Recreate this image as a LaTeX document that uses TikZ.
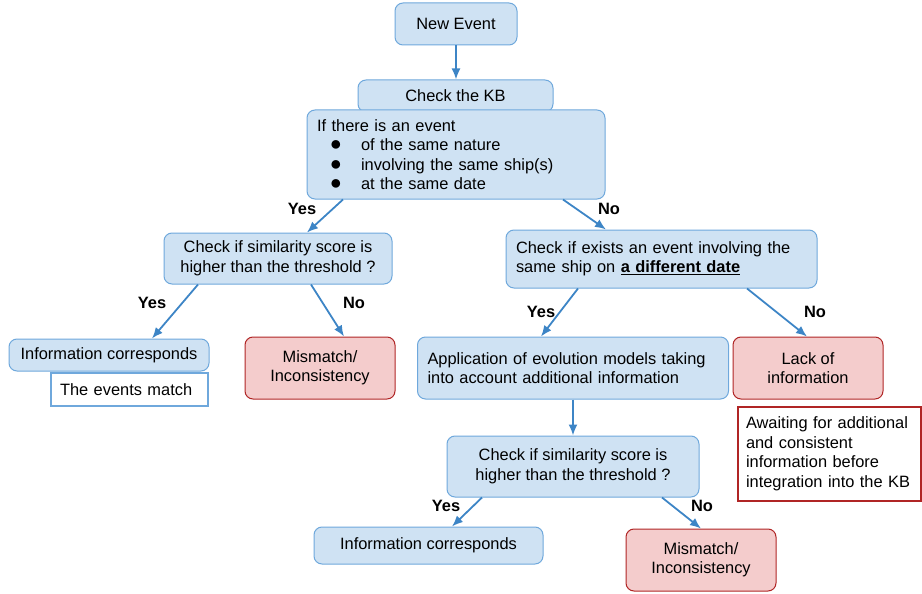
\documentclass[tikz,border=0pt]{standalone}
\usepackage{fontspec}
\setmainfont{Liberation Sans}
\usetikzlibrary{arrows.meta, positioning, calc}
\definecolor{boxblue}{HTML}{CFE2F3}
\definecolor{lineblue}{HTML}{6FA8DC}
\definecolor{arrowblue}{HTML}{3D85C6}
\definecolor{boxred}{HTML}{F4CCCC}
\definecolor{linered}{HTML}{B02525}
\newcommand{\diagfont}{\fontsize{16.4}{19.5}\selectfont}
\newcommand{\evitem}[1]{\hspace*{14pt}\makebox[10pt]{\fontsize{20}{12}\selectfont ●}\hspace*{20pt}#1}
\tikzset{
  blkcheck/.style = {draw=lineblue, line width=1pt, fill=boxblue, rounded corners=8pt,
                     align=center, inner sep=0pt},
  blkleft/.style  = {blkcheck, align=left, inner xsep=10pt},
  blkbad/.style   = {draw=linered, line width=1pt, fill=boxred, rounded corners=8pt,
                     align=center, inner sep=0pt},
  blknote/.style  = {draw=lineblue, line width=1.8pt, fill=white, align=left, inner sep=0pt},
  blkwait/.style  = {draw=linered, line width=1.2pt, fill=white, align=left, inner sep=0pt},
  flow/.style     = {-{Latex[length=11pt, width=9pt]}, arrowblue, line width=1.8pt},
  anslbl/.style   = {font=\diagfont\bfseries, inner sep=1pt},
}

\begin{document}
\begin{tikzpicture}[x=1pt, y=-1pt, font=\diagfont]
    \useasboundingbox (0,0) rectangle (922,594);

    \node[blkcheck, minimum width=122pt, minimum height=42pt] (new)   at (456,24)    {New Event};
    \node[blkcheck, minimum width=195pt, minimum height=32pt] (kb)    at (455.5,96)  {Check the KB};
    \node[blkleft,  minimum width=298pt, minimum height=89pt, text width=278pt] (same) at (456,154.5)
      {If there is an event\\
       \evitem{of the same nature}\\
       \evitem{involving the same ship(s)}\\
       \evitem{at the same date}};

    \node[blkcheck, minimum width=228pt, minimum height=51pt] (sim1)  at (278,258.5)
      {Check if similarity score is\\higher than the threshold ?};
    \node[blkleft,  minimum width=311pt, minimum height=58pt, text width=291pt] (exists) at (661.5,259)
      {Check if exists an event involving the\\same ship on \underline{\textbf{a different date}}};

    \node[blkcheck, minimum width=200pt, minimum height=32pt] (info1) at (109,355)   {Information corresponds};
    \node[blknote,  minimum width=157pt, minimum height=33pt, text width=139pt, inner xsep=9pt] (match) at (129.5,389.5)
      {The events match};
    \node[blkbad,   minimum width=150pt, minimum height=62pt] (mis1)  at (320,368)   {Mismatch/\\Inconsistency};
    \node[blkleft,  minimum width=311pt, minimum height=62pt, text width=291pt] (app) at (573,368)
      {Application of evolution models taking\\into account additional information};
    \node[blkbad,   minimum width=150pt, minimum height=62pt] (lack)  at (808,368)   {Lack of\\information};
    \node[blkwait,  minimum width=183pt, minimum height=94pt, text width=167pt, inner xsep=8pt] (wait) at (829.5,454)
      {Awaiting for additional\\and consistent\\information before\\integration into the KB};

    \node[blkcheck, minimum width=252pt, minimum height=61pt] (sim2)  at (573,466.5)
      {Check if similarity score is\\higher than the threshold ?};
    \node[blkcheck, minimum width=229pt, minimum height=37pt] (info2) at (428.5,545.5) {Information corresponds};
    \node[blkbad,   minimum width=150pt, minimum height=62pt] (mis2)  at (701,560)   {Mismatch/\\Inconsistency};

    % answer labels
    \node[anslbl] (yes1) at (302,209) {Yes};
    \node[anslbl] (no1)  at (609,209) {No};
    \node[anslbl] (yes2) at (152,303) {Yes};
    \node[anslbl] (no2)  at (354,303) {No};
    \node[anslbl] (yes3) at (541,312) {Yes};
    \node[anslbl] (no3)  at (815,312) {No};
    \node[anslbl] (yes4) at (446,506) {Yes};
    \node[anslbl] (no4)  at (702,506) {No};

    \draw[flow] (new.south) -- (new.south |- kb.north);
    \draw[flow] ([xshift=-113pt]same.south) -- ([xshift=29pt]sim1.north);
    \draw[flow] ([xshift=107pt]same.south)  -- ([xshift=-55.5pt]exists.north);
    \draw[flow] ([xshift=-80pt]sim1.south)  -- ([xshift=43pt]info1.north);
    \draw[flow] ([xshift=33pt]sim1.south)   -- ([xshift=24pt]mis1.north);
    \draw[flow] ([xshift=-83.5pt]exists.south) -- ([xshift=-32pt]app.north);
    \draw[flow] ([xshift=85.5pt]exists.south)  -- ([xshift=-1pt]lack.north);
    \draw[flow] (app.south) -- (app.south |- sim2.north);
    \draw[flow] ([xshift=-91pt]sim2.south)  -- ([xshift=23.5pt]info2.north);
    \draw[flow] ([xshift=89pt]sim2.south)   -- (mis2.north);
\end{tikzpicture}
\end{document}
